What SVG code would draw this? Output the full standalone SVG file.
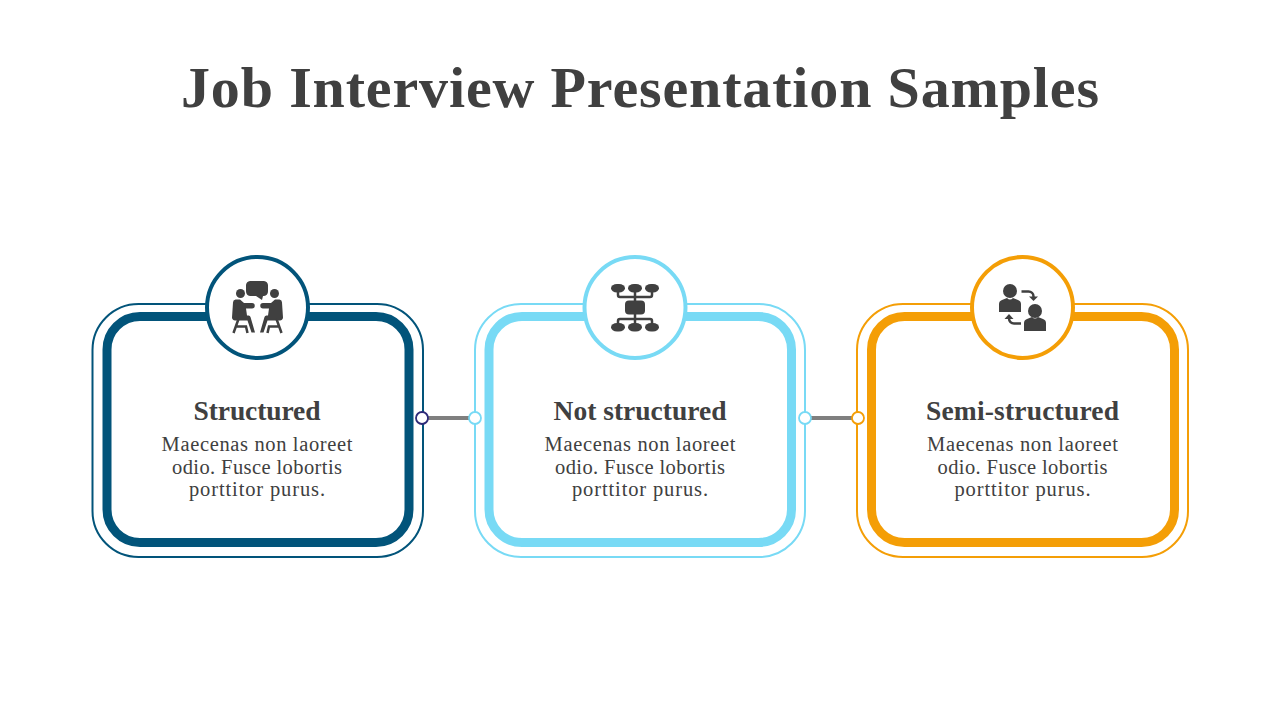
<svg xmlns="http://www.w3.org/2000/svg" width="1280" height="720" viewBox="0 0 1280 720">
<style>
.t{font-family:"Liberation Serif",serif;fill:#404040;text-anchor:middle}
.h{font-size:27.500px;font-weight:700}
.b{font-size:20.500px}
.o{fill:#fff;stroke-width:2}
.i{fill:#fff;stroke-width:9}
.c{fill:#fff;stroke-width:4}
.ic{fill:#404040;stroke:none}
.il{fill:none;stroke:#404040;stroke-width:2.500}
.navy{stroke:#02547a}.sky{stroke:#78daf5}.amb{stroke:#f49e06}
</style>
<defs>
<g id="sitter">
<circle class="ic" cx="240.500" cy="293.500" r="4.500"/>
<path class="ic" d="M235 299.500h5l4 3.500h8a2.700 2.700 0 0 1 0 5.500h-6l1 7h1.500a2 2 0 0 1 2 1.500l4.500 15.500h-3.500l-4-12h-12a3 3 0 0 1-3.500-3l1-15a3 3 0 0 1 2.500-3z"/>
<path class="il" d="M238.500 319l-5 14M236 326.500h10l1.500 6.500"/>
</g>
<g id="oval"><rect class="ic" width="14" height="8.500" rx="6" ry="4.200"/></g>
<path id="bust" class="ic" d="M-11 13v-8q0-3 3-4l5-2q3 3 6 0l5 2q3 1 3 4v8z"/>
</defs>
<rect width="1280" height="720" fill="#fff"/>
<text id="title" class="t" x="640" y="107" font-size="58" font-weight="700" textLength="918" lengthAdjust="spacing">Job Interview Presentation Samples</text>
<g id="connectors">
<line x1="422" y1="418" x2="475" y2="418" stroke="#7f7f7f" stroke-width="4"/>
<line x1="805" y1="418" x2="858" y2="418" stroke="#7f7f7f" stroke-width="4"/>
</g>
<g id="node-structured">
<rect class="o navy" x="92.500" y="304" width="330.500" height="253" rx="46"/>
<rect class="i navy" x="107" y="316.500" width="302" height="226" rx="33"/>
<circle class="c navy" cx="257.500" cy="307.500" r="50.500"/>
<path class="ic" d="M250 281h14a4.500 4.500 0 0 1 4 4v6a5 5 0 0 1-4 5h-1l-1 4-6-4h-6a5 5 0 0 1-4-5v-6a4.500 4.500 0 0 1 4-4z"/>
<use href="#sitter"/>
<use href="#sitter" transform="matrix(-1 0 0 1 515 0)"/>
<text class="t h" x="257" y="420" textLength="127">Structured</text>
<text class="t b" x="257" y="451" textLength="191">Maecenas non laoreet</text>
<text class="t b" x="257" y="474" textLength="170">odio. Fusce lobortis</text>
<text class="t b" x="257" y="496" textLength="136">porttitor purus.</text>
</g>
<g id="node-not-structured">
<rect class="o sky" x="475" y="304" width="330" height="253" rx="46"/>
<rect class="i sky" x="489" y="316.500" width="302.500" height="226" rx="33"/>
<circle class="c sky" cx="635" cy="307.500" r="50.500"/>
<path class="il" d="M618 292v3a2 2 0 0 0 2 2h30a2 2 0 0 0 2-2v-3M635 292v31M618 323v-2a2 2 0 0 1 2-2h30a2 2 0 0 1 2 2v2"/>
<use href="#oval" x="611" y="284"/>
<use href="#oval" x="628" y="284"/>
<use href="#oval" x="645" y="284"/>
<rect class="ic" x="625" y="300.500" width="20" height="14" rx="4"/>
<use href="#oval" x="611" y="323"/>
<use href="#oval" x="628" y="323"/>
<use href="#oval" x="645" y="323"/>
<text class="t h" x="640" y="420" textLength="173">Not structured</text>
<text class="t b" x="640" y="451" textLength="191">Maecenas non laoreet</text>
<text class="t b" x="640" y="474" textLength="170">odio. Fusce lobortis</text>
<text class="t b" x="640" y="496" textLength="136">porttitor purus.</text>
</g>
<g id="node-semi-structured">
<rect class="o amb" x="857" y="304" width="331" height="253" rx="46"/>
<rect class="i amb" x="871.500" y="316.500" width="303" height="226" rx="33"/>
<circle class="c amb" cx="1022.500" cy="307.500" r="50.500"/>
<circle class="ic" cx="1010" cy="291" r="7"/>
<use href="#bust" x="1010" y="299"/>
<circle class="ic" cx="1035" cy="311" r="7"/>
<use href="#bust" x="1035" y="318"/>
<path class="il" d="M1021.500 291.500h7a5 5 0 0 1 5 5v1"/>
<path class="ic" d="M1029 296.500h9l-4.500 4.500z"/>
<path class="il" d="M1021 323.500h-7a5 5 0 0 1-5-5v-1"/>
<path class="ic" d="M1004.500 319h9l-4.500-5z"/>
<text class="t h" x="1022.500" y="420" textLength="193">Semi-structured</text>
<text class="t b" x="1022.500" y="451" textLength="191">Maecenas non laoreet</text>
<text class="t b" x="1022.500" y="474" textLength="170">odio. Fusce lobortis</text>
<text class="t b" x="1022.500" y="496" textLength="136">porttitor purus.</text>
</g>
<g id="ports" fill="#fff" stroke-width="1.800">
<circle cx="422" cy="418" r="6" stroke="#2e2a78"/>
<circle cx="475" cy="418" r="6" stroke="#78daf5"/>
<circle cx="805" cy="418" r="6" stroke="#78daf5"/>
<circle cx="858" cy="418" r="6" stroke="#f49e06"/>
</g>
</svg>
